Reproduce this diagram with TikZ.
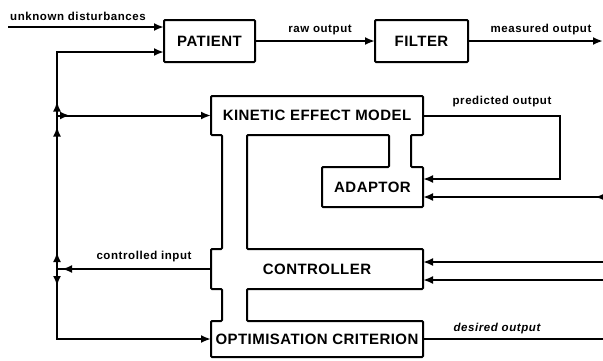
\documentclass[tikz,border=0pt]{standalone}
\usepackage{fontspec}
\setmainfont{Liberation Sans}
\usetikzlibrary{arrows.meta, positioning, decorations.markings}
\newcommand{\boxfont}{\fontsize{15}{18}\selectfont\bfseries\addfontfeatures{LetterSpace=3}}
\newcommand{\lblfont}{\fontsize{11.5}{13}\selectfont\bfseries\addfontfeatures{LetterSpace=5}}

\begin{document}
\begin{tikzpicture}[x=1pt, y=-1pt,
    block/.style={rectangle, draw, line width=2pt, rounded corners=1pt, minimum width=91pt,
                  minimum height=42pt, inner sep=0pt, outer sep=0pt, font=\boxfont},
    part/.style={rectangle, inner sep=0pt, outer sep=0pt, font=\boxfont},
    lbl/.style={inner sep=0pt, anchor=base, font=\lblfont},
    wire/.style={line width=2pt},
    arr/.style={-{Latex[length=10pt,width=8pt]}, line width=2pt},
    tipat/.style={postaction={decorate, decoration={markings,
                  mark=at position #1 with {\arrow{Latex[length=10pt,width=8pt]}}}}}
]
\useasboundingbox (0,0) rectangle (603,360);

% plant side
\node[block] (patient) at (209.5,41) {PATIENT};
\node[block, minimum width=93pt, right=120pt of patient] (filter) {FILTER};

% blocks sharing one outline
\node[part, minimum width=212pt, minimum height=39pt] (kem) at (317,115.5) {KINETIC EFFECT MODEL};
\node[part, minimum width=101pt, minimum height=40pt] (adaptor) at (372.5,187) {ADAPTOR};
\node[part, minimum width=212pt, minimum height=40pt] (ctrl) at (317,269) {CONTROLLER};
\node[part, minimum width=212pt, minimum height=36pt] (optim) at (317,339) {OPTIMISATION CRITERION};
\draw[wire, rounded corners=1pt]
    (211,96) -- (423,96) -- (423,135) -- (411,135) -- (411,167) -- (423,167)
    -- (423,207) -- (322,207) -- (322,167) -- (389,167) -- (389,135) -- (247,135)
    -- (247,249) -- (423,249) -- (423,289) -- (247,289) -- (247,321) -- (423,321)
    -- (423,357) -- (211,357) -- (211,321) -- (222,321) -- (222,289) -- (211,289)
    -- (211,249) -- (222,249) -- (222,135) -- (211,135) -- cycle;

% top row
\coordinate (dist) at (8,27);
\draw[arr] (dist) -- (dist -| patient.west);
\node[lbl, anchor=base west] (distlbl) at (10,20) {unknown disturbances};
\draw[arr] (patient) -- (filter);
\node[lbl] (rawlbl) at (320,32) {raw output};
\coordinate (measend) at (603,41);
\draw[arr] (filter) -- (measend);
\node[lbl] (measlbl) at (541,32) {measured output};

% input bus on the left
\coordinate (bustop) at (57,52);
\coordinate (jk) at (bustop |- kem.west);
\coordinate (jc) at (bustop |- ctrl.west);
\coordinate (busbot) at (57,339);
\draw[arr, tipat=14pt] (jk) -- (bustop) -- (bustop -| patient.west);
\draw[arr, tipat=13pt] (jk) -- (kem.west);
\draw[wire, tipat=17pt, tipat=-11pt] (jc) -- (jk);
\draw[wire, tipat=-5pt] (ctrl.west) -- (jc);
\draw[arr, tipat=17pt] (jc) -- (busbot) -- (optim.west);
\node[lbl] (ctrllbl) at (144,259) {controlled input};

% right side
\coordinate (predturn) at (560,179);
\draw[arr] (kem.east) -| (predturn) -- (predturn -| adaptor.east);
\node[lbl] (predlbl) at (502,104) {predicted output};
\coordinate (adin) at (603,197);
\draw[arr, tipat=8pt] (adin) -- (adin -| adaptor.east);
\coordinate (ctrlina) at (603,262);
\coordinate (ctrlinb) at (603,280);
\draw[arr] (ctrlina) -- (ctrlina -| ctrl.east);
\draw[arr] (ctrlinb) -- (ctrlinb -| ctrl.east);
\coordinate (desend) at (603,339);
\draw[wire] (optim.east) -- (desend);
\node[lbl, font=\itshape\lblfont] (deslbl) at (497,331) {desired output};
\end{tikzpicture}
\end{document}
